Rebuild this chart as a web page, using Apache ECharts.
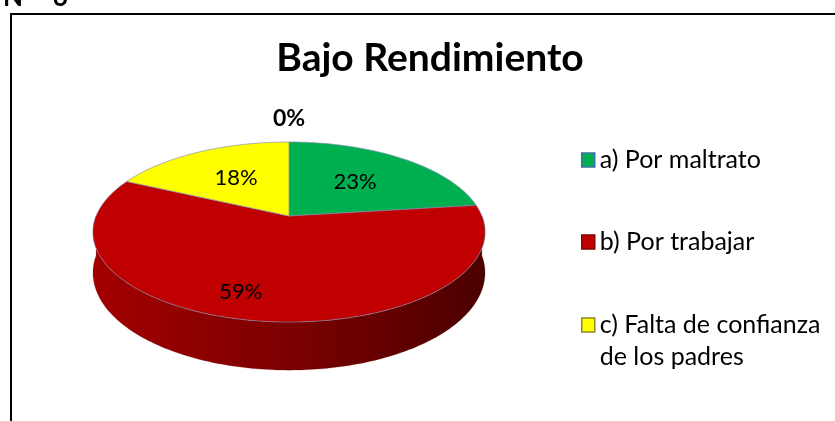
<!DOCTYPE html>
<html>
<head>
<meta charset="utf-8">
<script src="https://cdn.jsdelivr.net/npm/echarts@6/dist/echarts.min.js"></script>
<style>
  html, body { margin: 0; padding: 0; background: #fff; }
  #chart { width: 835px; height: 421px; }
</style>
</head>
<body>
<div id="chart"></div>
<script>
// ---- data ----
const categories = ['a) Por maltrato', 'b) Por trabajar', 'c) Falta de confianza de los padres', 'd)'];
const legendLabels = ['a) Por maltrato', 'b) Por trabajar', '\nc) Falta de confianza\nde los padres'];
const values = [23, 59, 18, 0];
const titleText = 'Bajo Rendimiento';
const figureTag = 'N°   6';

// ---- styles / layout ----
const topColors = ['#00B050', '#C00000', '#FFFF00', '#4F81BD'];
const legendBorders = ['#3F6FAF', '#8B0000', '#8A8A20'];
const sideStops = [
  ['#00862f', '#006b26', '#004a1a'],
  ['#a30000', '#7c0000', '#4b0000'],
  ['#c8c800', '#a0a000', '#707000'],
  ['#3a5f8d', '#2e4c71', '#1f3350']
];
const labelPlace = [{ f: 0.556, d: 0 }, { f: 0.785, d: 7 }, { f: 0.556, d: 0 }, { f: 1.4, d: 0 }];
const GEO = { cx: 289, cy: 216, r: 192.9, rv: 87.2, k: 0.178, h: 39.5 };
const FONT = 'Lato';

const total = values.reduce((a, b) => a + b, 0);
const starts = [];
values.reduce((acc, v, i) => { starts[i] = acc; return acc + v; }, 0);

function proj(phiDeg, f, drop) {
  const p = phiDeg * Math.PI / 180;
  const u = f * Math.sin(p), v = -f * Math.cos(p);
  const w = 1 - GEO.k * v;
  return [GEO.cx + GEO.r * u / w, GEO.cy + (GEO.rv * v + (drop || 0)) / w];
}
function arc(a0, a1, drop) {
  const pts = [];
  const n = Math.max(2, Math.ceil(Math.abs(a1 - a0)));
  for (let i = 0; i <= n; i++) pts.push(proj(a0 + (a1 - a0) * i / n, 1, drop));
  return pts;
}

function makeRender(idx) {
  return function (params, api) {
    const s = api.value(0) / total * 360;
    const e = s + api.value(1) / total * 360;
    const children = [];
    if (e > s) {
      const ss = Math.max(s, 90), se = Math.min(e, 270);
      if (se > ss) {
        const topArc = arc(ss, se, 0);
        const botArc = arc(se, ss, GEO.h);
        children.push({
          type: 'polygon', z2: 1,
          shape: { points: topArc.concat(botArc) },
          style: {
            fill: {
              type: 'linear', global: true,
              x: GEO.cx - GEO.r * 1.02, y: 0, x2: GEO.cx + GEO.r * 1.02, y2: 0,
              colorStops: [
                { offset: 0, color: sideStops[idx][0] },
                { offset: 0.5, color: sideStops[idx][1] },
                { offset: 1, color: sideStops[idx][2] }
              ]
            },
            stroke: 'rgba(90,0,0,0.3)', lineWidth: 0.6
          }
        });
      }
      children.push({
        type: 'polygon', z2: 5,
        shape: { points: [[GEO.cx, GEO.cy]].concat(arc(s, e, 0)) },
        style: { fill: topColors[idx], stroke: 'rgba(130,140,175,0.85)', lineWidth: 0.8 }
      });
    }
    const lp = labelPlace[idx];
    const pos = proj((s + e) / 2 + lp.d, lp.f, 0);
    children.push({
      type: 'text', z2: 10,
      style: {
        text: Math.round(api.value(1) / total * 100) + '%',
        x: pos[0], y: pos[1], align: 'center', verticalAlign: 'middle',
        fontFamily: FONT, fontSize: e > s ? 22 : 23, fontWeight: e > s ? 'normal' : 'bold', fill: '#000'
      }
    });
    return { type: 'group', children: children };
  };
}

const series = values.map((v, i) => ({
  type: 'custom',
  name: categories[i],
  coordinateSystem: 'none',
  silent: true,
  itemStyle: { color: topColors[i] },
  data: [[starts[i], v]],
  renderItem: makeRender(i)
}));

const legendTops = [139, 221, 272];
const legends = legendLabels.map((txt, i) => ({
  left: 576, top: legendTops[i], orient: 'vertical',
  icon: 'rect', itemWidth: 13, itemHeight: 14, itemGap: 0,
  selectedMode: false,
  formatter: () => txt,
  data: [{
    name: categories[i],
    itemStyle: { color: topColors[i], borderColor: legendBorders[i], borderWidth: 1.5 }
  }],
  textStyle: { fontFamily: FONT, fontSize: 25, color: '#000', lineHeight: 32 }
}));

const chart = echarts.init(document.getElementById('chart'), null, { renderer: 'canvas' });
chart.setOption({
  animation: false,
  title: {
    text: titleText, left: 425, top: 34, textAlign: 'center',
    textStyle: { fontFamily: FONT, fontSize: 39, fontWeight: 'bold', color: '#000' }
  },
  legend: legends,
  graphic: [
    { type: 'rect', shape: { x: 11, y: 14, width: 900, height: 500 }, style: { fill: 'none', stroke: '#000', lineWidth: 2 }, silent: true },
    { type: 'text', x: 3, y: 11, style: { text: figureTag, fontFamily: FONT, fontSize: 26, fontWeight: 'bold', fill: '#000', verticalAlign: 'bottom' }, silent: true }
  ],
  series: series
});
</script>
</body>
</html>
